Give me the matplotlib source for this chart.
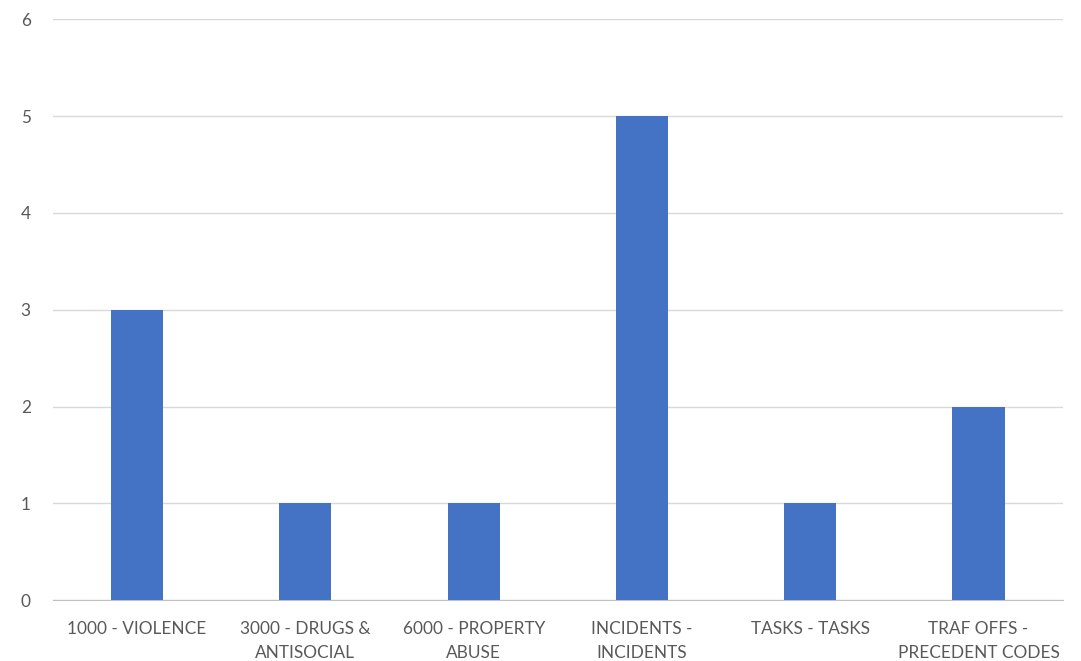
import numpy as np
import matplotlib.pyplot as plt

categories = ['1000 - VIOLENCE', '3000 - DRUGS &\nANTISOCIAL', '6000 - PROPERTY\nABUSE',
              'INCIDENTS -\nINCIDENTS', 'TASKS - TASKS', 'TRAF OFFS -\nPRECEDENT CODES']
counts = [3, 1, 1, 5, 1, 2]
yticks = [0, 1, 2, 3, 4, 5, 6]

plt.rcParams['font.family'] = ['Lato', 'DejaVu Sans']

fig = plt.figure(figsize=(10.81, 6.61), dpi=100)
ax = fig.add_axes([0.049, 0.092, 0.934, 0.879])

x = np.arange(len(categories))
ax.bar(x, counts, width=0.31, color='#4472C4', zorder=3)

ax.set_xlim(-0.5, len(categories) - 0.5)
ax.set_ylim(0, 6)
ax.set_yticks(yticks)
ax.set_xticks(x)
ax.set_xticklabels(categories, fontsize=12.4, color='#595959', linespacing=1.6)
ax.tick_params(axis='y', labelsize=12.4, labelcolor='#595959', length=0, pad=16)
ax.tick_params(axis='x', length=0, pad=15)

ax.grid(axis='y', color='#D9D9D9', linewidth=1, zorder=0)
for side in ['top', 'right', 'left']:
    ax.spines[side].set_visible(False)
ax.spines['bottom'].set_color('#BFBFBF')

fig.savefig('out.png', dpi=100)
